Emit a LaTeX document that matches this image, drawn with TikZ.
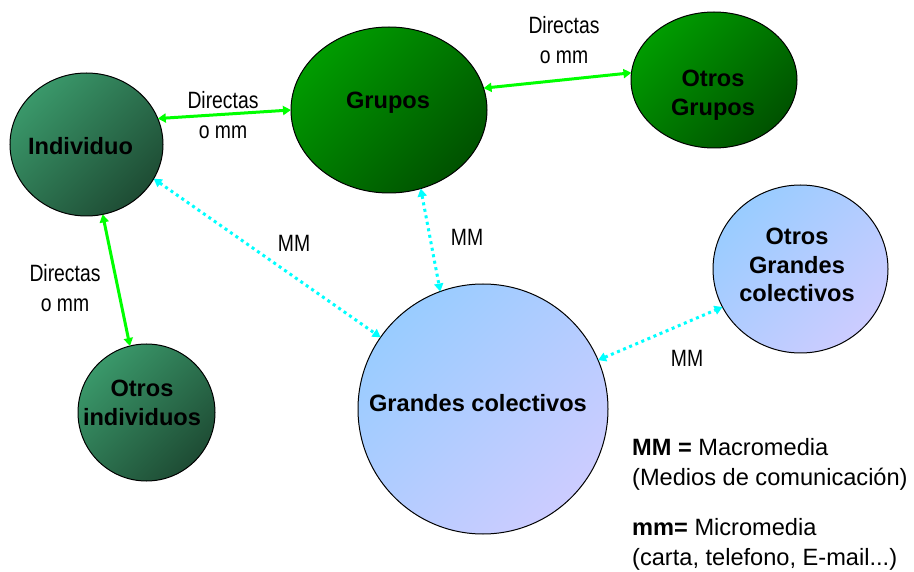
\documentclass[tikz,border=0pt]{standalone}
\usepackage{fontspec}
\setmainfont{Liberation Sans}
\newfontfamily\narrowsans[FakeStretch=0.82]{Liberation Sans}
\usetikzlibrary{arrows.meta,shapes.geometric}

\definecolor{tealA}{HTML}{3A986A}
\definecolor{tealB}{HTML}{1E4C34}
\definecolor{grnA}{HTML}{009C00}
\definecolor{grnB}{HTML}{005200}
\definecolor{bluA}{HTML}{99CCFF}
\definecolor{bluB}{HTML}{CCCCFF}
\definecolor{linkgreen}{HTML}{00FF00}
\definecolor{linkcyan}{HTML}{00FFFF}

\tikzset{
  bubble/.style={ellipse, draw=black, line width=1pt, inner sep=0pt, outer sep=0pt},
  tealbub/.style={bubble, top color=tealA, bottom color=tealB, shading angle=45},
  grnbub/.style={bubble, top color=grnA, bottom color=grnB, shading angle=45},
  blubub/.style={bubble, top color=bluA, bottom color=bluB, shading angle=45},
  bubtext/.style={font=\bfseries\fontsize{23.6}{28.5}\selectfont, align=center, inner sep=0pt},
  lbl/.style={font=\narrowsans\fontsize{23.6}{29.5}\selectfont, align=center, inner sep=0pt},
  legend/.style={font=\fontsize{23.6}{29.5}\selectfont, anchor=base west, inner sep=0pt},
  solidlink/.style={draw=linkgreen, line width=3pt, {Triangle[length=8pt,width=9pt]}-{Triangle[length=8pt,width=9pt]}},
  dotlink/.style={draw=linkcyan, line width=3pt, dash pattern=on 3pt off 3.6pt, {Triangle[length=8pt,width=9pt]}-{Triangle[length=8pt,width=9pt]}},
}

\begin{document}
\begin{tikzpicture}[x=1pt,y=-1pt]
\useasboundingbox (0,0) rectangle (914,572);

% bubbles
\node[tealbub, minimum width=153pt, minimum height=143pt] (ind) at (86.5,144.5) {};
\node[grnbub, minimum width=196pt, minimum height=166pt] (grp) at (389,110) {};
\node[grnbub, minimum width=166pt, minimum height=136pt] (ogr) at (714,80) {};
\node[tealbub, minimum width=137pt, minimum height=137pt] (oin) at (146.5,412.5) {};
\node[blubub, minimum width=250pt, minimum height=250pt] (gc) at (483,409) {};
\node[blubub, minimum width=175pt, minimum height=168pt] (ogc) at (800.5,269) {};

% bubble captions
\node[bubtext] (tind) at (80.5,146) {Individuo};
\node[bubtext] (tgrp) at (388,103) {Grupos};
\node[bubtext] (togr) at (713,95) {Otros\\Grupos};
\node[bubtext] (toin) at (142,403) {Otros\\individuos};
\node[bubtext] (tgc) at (478,403) {Grandes colectivos};
\node[bubtext] (togc) at (797,265) {Otros\\Grandes\\colectivos};

% direct links
\draw[solidlink] (ind.20) -- (grp.180);
\draw[solidlink] (grp.13) -- (ogr.175);
\draw[solidlink] (ind.283) -- (oin.104);

% mass media links
\draw[dotlink] (ind.333) -- (gc.145);
\draw[dotlink] (grp.292) -- (gc.110);
\draw[dotlink] (gc.23) -- (ogc.206);

% link captions
\node[lbl] (l1) at (223,115) {Directas\\o mm};
\node[lbl] (l2) at (564,40) {Directas\\o mm};
\node[lbl] (l3) at (65,288) {Directas\\o mm};
\node[lbl] (m1) at (294,243) {MM};
\node[lbl] (m2) at (467,237) {MM};
\node[lbl] (m3) at (687,358) {MM};

% legend
\node[legend] (lg1) at (632,455) {\textbf{MM =} Macromedia};
\node[legend] (lg2) at (632,485) {(Medios de comunicación)};
\node[legend] (lg3) at (632,535) {\textbf{mm=} Micromedia};
\node[legend] (lg4) at (632,565) {(carta, telefono, E-mail...)};
\end{tikzpicture}
\end{document}
